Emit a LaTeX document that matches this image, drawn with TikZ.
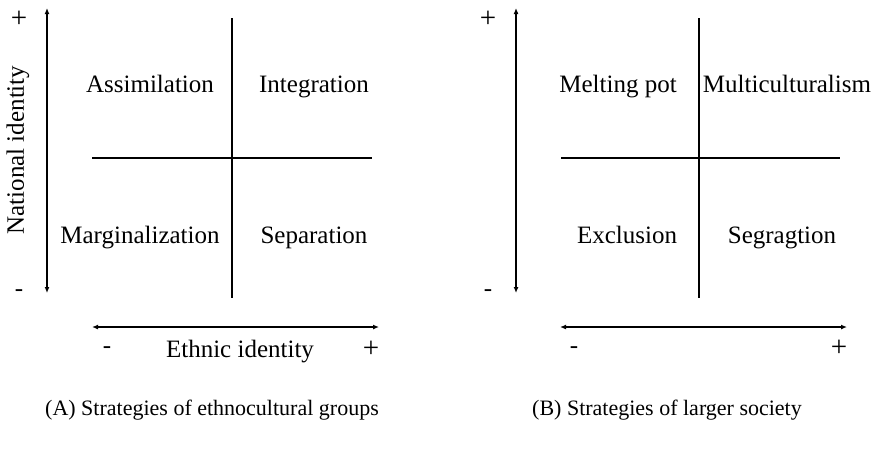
\documentclass[tikz,border=0pt]{standalone}
\usepackage{fontspec}
\setmainfont{Liberation Serif}
\usetikzlibrary{arrows.meta}
\tikzset{
  lbl/.style={font=\fontsize{25}{28}\selectfont, inner sep=0pt, anchor=base},
  captxt/.style={font=\fontsize{22}{26}\selectfont, inner sep=0pt, anchor=base},
  sgn/.style={font=\fontsize{29}{30}\selectfont, inner sep=0pt},
  hyp/.style={font=\fontsize{25}{28}\selectfont, inner sep=0pt},
  axis/.style={line width=1.4pt, {Latex[length=6pt,width=5pt]}-{Latex[length=6pt,width=5pt]}},
  quad/.style={line width=1.4pt}
}
\begin{document}
\begin{tikzpicture}[x=1pt,y=-1pt]
\useasboundingbox (0,0) rectangle (874,448);
% ---------- Panel A ----------
\coordinate (av1) at (47,8);
\coordinate (av2) at (47,293);
\draw[axis] (av1) -- (av2);
\coordinate (ah1) at (92,327);
\coordinate (ah2) at (379,327);
\draw[axis] (ah1) -- (ah2);
\coordinate (ax1) at (92,158);
\coordinate (ax2) at (372,158);
\coordinate (ay1) at (232,18);
\coordinate (ay2) at (232,298);
\draw[quad] (ax1) -- (ax2);
\draw[quad] (ay1) -- (ay2);
\node[sgn] (aplus) at (19,19) {+};
\node[hyp] (aminus) at (19,293) {-};
\node[font=\fontsize{25}{28}\selectfont, inner sep=0pt, rotate=90] (anat) at (18,150) {National identity};
\node[lbl] (aass) at (150,92) {Assimilation};
\node[lbl] (aint) at (314,92) {Integration};
\node[lbl] (amar) at (140,243) {Marginalization};
\node[lbl] (asep) at (314,243) {Separation};
\node[hyp] (ahminus) at (107,350) {-};
\node[lbl] (aeth) at (240,357) {Ethnic identity};
\node[sgn] (ahplus) at (371,349) {+};
\node[captxt] (acap) at (212,415) {(A) Strategies of ethnocultural groups};
% ---------- Panel B ----------
\coordinate (bv1) at (516,8);
\coordinate (bv2) at (516,293);
\draw[axis] (bv1) -- (bv2);
\coordinate (bh1) at (560,327);
\coordinate (bh2) at (847,327);
\draw[axis] (bh1) -- (bh2);
\coordinate (bx1) at (561,158);
\coordinate (bx2) at (840,158);
\coordinate (by1) at (699,18);
\coordinate (by2) at (699,298);
\draw[quad] (bx1) -- (bx2);
\draw[quad] (by1) -- (by2);
\node[sgn] (bplus) at (488,19) {+};
\node[hyp] (bminus) at (488,293) {-};
\node[lbl] (bmel) at (618,92) {Melting pot};
\node[lbl] (bmul) at (787,92) {Multiculturalism};
\node[lbl] (bexc) at (627,243) {Exclusion};
\node[lbl] (bseg) at (782,243) {Segragtion};
\node[hyp] (bhminus) at (574,350) {-};
\node[sgn] (bhplus) at (839,348) {+};
\node[captxt] (bcap) at (667,415) {(B) Strategies of larger society};
\end{tikzpicture}
\end{document}
